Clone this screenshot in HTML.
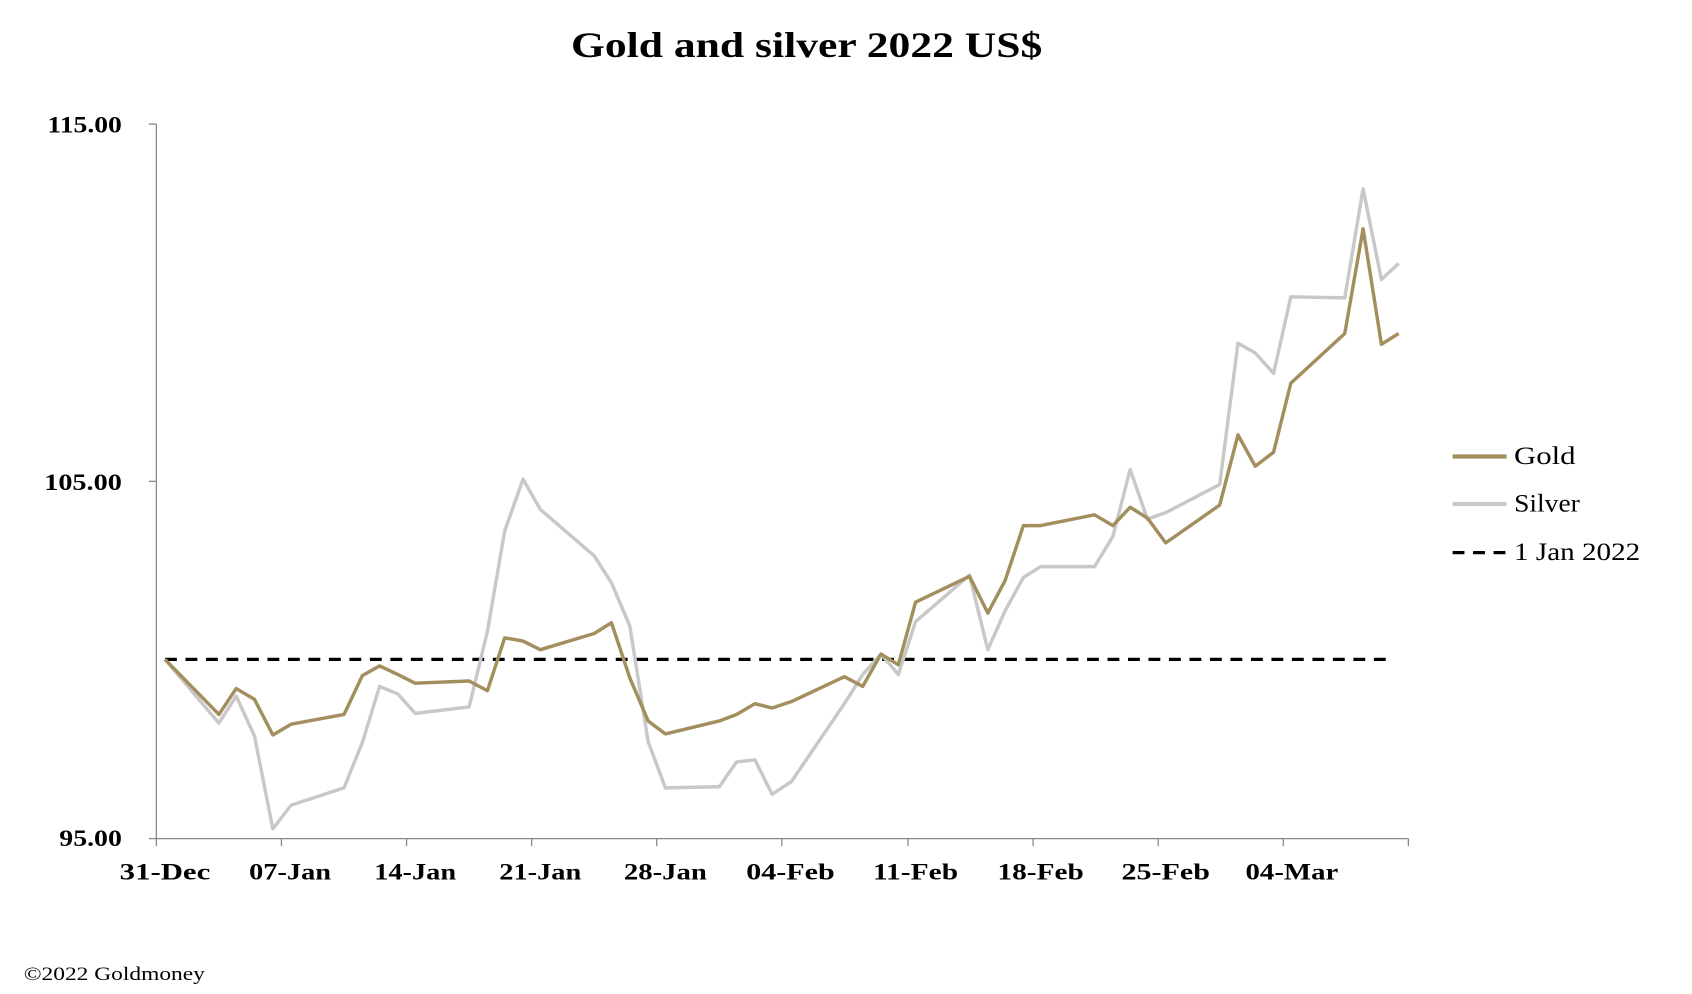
<!DOCTYPE html>
<html><head><meta charset="utf-8"><style>html,body{margin:0;padding:0;background:#fff}svg{display:block}</style></head>
<body>
<svg width="1692" height="994" viewBox="0 0 1569 921" preserveAspectRatio="none" xmlns="http://www.w3.org/2000/svg" font-family="'Liberation Serif', serif">
<rect width="1569" height="921" fill="#fff"/>
<text x="748" y="53" text-anchor="middle" font-size="33" font-weight="bold" textLength="437" lengthAdjust="spacingAndGlyphs">Gold and silver 2022  US$</text>
<g stroke="#888" stroke-width="1.2" fill="none">
<line x1="145" y1="115" x2="145" y2="777"/>
<line x1="145" y1="777" x2="1306" y2="777"/>
<line x1="138" y1="115" x2="145" y2="115"/>
<line x1="138" y1="446" x2="145" y2="446"/>
<line x1="138" y1="777" x2="145" y2="777"/>
<g>
<line x1="145" y1="777" x2="145" y2="784"/><line x1="261" y1="777" x2="261" y2="784"/><line x1="377" y1="777" x2="377" y2="784"/><line x1="493" y1="777" x2="493" y2="784"/><line x1="609" y1="777" x2="609" y2="784"/><line x1="725" y1="777" x2="725" y2="784"/><line x1="842" y1="777" x2="842" y2="784"/><line x1="958" y1="777" x2="958" y2="784"/><line x1="1074" y1="777" x2="1074" y2="784"/><line x1="1190" y1="777" x2="1190" y2="784"/><line x1="1306" y1="777" x2="1306" y2="784"/>
</g>
</g>
<g font-size="22" font-weight="bold" text-anchor="end">
<text x="113" y="123" textLength="69" lengthAdjust="spacingAndGlyphs">115.00</text>
<text x="113" y="454" textLength="72" lengthAdjust="spacingAndGlyphs">105.00</text>
<text x="113" y="784" textLength="58" lengthAdjust="spacingAndGlyphs">95.00</text>
</g>
<g font-size="22" font-weight="bold" text-anchor="middle">
<text x="153" y="815" textLength="84" lengthAdjust="spacingAndGlyphs">31-Dec</text><text x="269" y="815" textLength="76" lengthAdjust="spacingAndGlyphs">07-Jan</text><text x="385" y="815" textLength="76" lengthAdjust="spacingAndGlyphs">14-Jan</text><text x="501" y="815" textLength="76" lengthAdjust="spacingAndGlyphs">21-Jan</text><text x="617" y="815" textLength="77" lengthAdjust="spacingAndGlyphs">28-Jan</text><text x="733" y="815" textLength="82" lengthAdjust="spacingAndGlyphs">04-Feb</text><text x="849" y="815" textLength="79" lengthAdjust="spacingAndGlyphs">11-Feb</text><text x="965" y="815" textLength="80" lengthAdjust="spacingAndGlyphs">18-Feb</text><text x="1081" y="815" textLength="82" lengthAdjust="spacingAndGlyphs">25-Feb</text><text x="1198" y="815" textLength="86" lengthAdjust="spacingAndGlyphs">04-Mar</text>
</g>
<line x1="153" y1="611" x2="1290" y2="611" stroke="#000" stroke-width="3" stroke-dasharray="11,8"/>
<polyline fill="none" stroke="#c8c8c8" stroke-width="3.2" stroke-linejoin="round" points="153,611 203,670 219,645 236,682 253,768 270,746 319,730 336,688 352,636 369,643 385,661 435,655 452,585 468,492 485,444 501,472 551,515 567,540 584,580 601,687 617,730 667,729 683,706 700,704 716,736 734,724 783,652 800,625 817,606 833,625 849,576 899,533 916,602 932,566 949,535 965,525 1015,525 1032,497 1048,435 1064,481 1081,475 1131,449 1148,318 1164,327 1181,346 1197,275 1247,276 1264,175 1281,259 1297,244"/>
<polyline fill="none" stroke="#a38f5e" stroke-width="3.2" stroke-linejoin="round" points="153,611 203,662 219,638 236,648 253,681 270,671 319,662 336,626 352,617 369,625 385,633 435,631 452,640 468,591 485,594 501,602 551,587 567,577 584,628 601,668 617,680 667,668 683,662 700,652 716,656 734,650 783,627 800,636 817,606 833,616 849,558 899,534 916,568 932,538 949,487 965,487 1015,477 1032,487 1048,470 1064,480 1081,503 1131,468 1148,403 1164,432 1181,419 1197,355 1247,309 1264,212 1281,319 1297,309"/>
<line x1="1347" y1="423" x2="1397" y2="423" stroke="#a38f5e" stroke-width="4"/>
<line x1="1347" y1="467" x2="1397" y2="467" stroke="#c8c8c8" stroke-width="4"/>
<line x1="1347" y1="512" x2="1397" y2="512" stroke="#000" stroke-width="3" stroke-dasharray="11,8"/>
<g font-size="23">
<text x="1404" y="430" textLength="57" lengthAdjust="spacingAndGlyphs">Gold</text>
<text x="1404" y="474" textLength="61" lengthAdjust="spacingAndGlyphs">Silver</text>
<text x="1404" y="519" textLength="117" lengthAdjust="spacingAndGlyphs">1 Jan 2022</text>
</g>
<text x="22" y="908" font-size="18" textLength="168" lengthAdjust="spacingAndGlyphs">©2022 Goldmoney</text>
</svg>
</body></html>
